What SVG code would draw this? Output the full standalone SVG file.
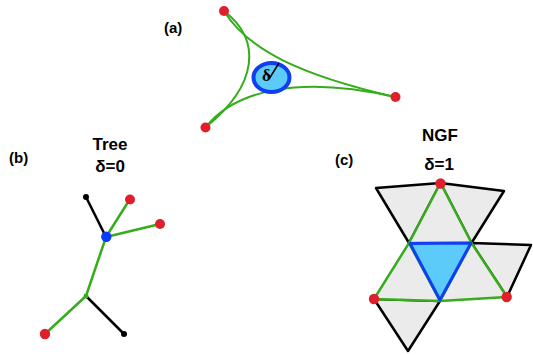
<svg xmlns="http://www.w3.org/2000/svg" width="533" height="355" viewBox="0 0 533 355">
<style>
.lbl{font-family:"Liberation Sans",Arial,sans-serif;font-weight:bold;font-size:15px;fill:#000}
.ttl{font-family:"Liberation Sans",Arial,sans-serif;font-weight:bold;font-size:17px;fill:#000;text-anchor:middle}
.g{stroke:#36ad1c;stroke-width:2.5;fill:none;stroke-linecap:round}
.gc{stroke:#36ad1c;stroke-width:2;fill:none}
.k{stroke:#000;stroke-width:2.5;fill:none;stroke-linecap:round}
.red{fill:#e01f2d}
.tri{fill:#ebebeb;stroke-linejoin:round}
</style>
<rect width="533" height="355" fill="#fff"/>
<g id="panel-a">
<text class="lbl" x="164" y="33">(a)</text>
<g id="a-connectors">
<path class="gc" d="M224,11 C262,40 258,85 206,127"/>
<path class="gc" d="M224,11 C248,50 300,75 395,97"/>
<path class="gc" d="M206,127 C235,90 300,75 395,97"/>
</g>
<g id="a-disk">
<ellipse cx="271.5" cy="77.5" rx="18" ry="14.5" fill="#5ccbfa" stroke="#0f3ff0" stroke-width="4"/>
<text x="266.5" y="80.5" font-family="Liberation Serif,serif" font-weight="bold" font-size="17" text-anchor="middle">δ</text>
<path d="M268,74 L270,77.5 L279,63" stroke="#000" stroke-width="1.5" fill="none"/>
</g>
<circle id="a-n1" class="red" cx="224" cy="11" r="5"/>
<circle id="a-n2" class="red" cx="395.5" cy="97" r="5"/>
<circle id="a-n3" class="red" cx="205.5" cy="127.5" r="5"/>
</g>
<g id="panel-b">
<text class="lbl" x="9" y="163">(b)</text>
<text class="ttl" x="110" y="150">Tree</text>
<text class="ttl" x="110" y="172">δ=0</text>
<g id="b-connectors">
<line class="k" x1="86" y1="197" x2="106" y2="237"/>
<line class="k" x1="86" y1="296" x2="124" y2="334"/>
<line class="g" x1="106" y1="237" x2="130" y2="199"/>
<line class="g" x1="106" y1="237" x2="160" y2="224"/>
<line class="g" x1="106" y1="237" x2="86" y2="296"/>
<line class="g" x1="86" y1="296" x2="45" y2="334"/>
</g>
<circle id="b-n1" cx="86" cy="197" r="3" fill="#000"/>
<circle id="b-n2" class="red" cx="130" cy="199.5" r="5"/>
<circle id="b-n3" class="red" cx="160" cy="224" r="5"/>
<circle id="b-n4" cx="106.3" cy="236.7" r="5.2" fill="#0a3cf5"/>
<circle id="b-n5" cx="86" cy="296" r="2.5" fill="#36ad1c"/>
<circle id="b-n6" cx="124" cy="334" r="3" fill="#000"/>
<circle id="b-n7" class="red" cx="45" cy="334" r="5.2"/>
</g>
<g id="panel-c">
<text class="lbl" x="335" y="165">(c)</text>
<text class="ttl" x="440" y="141">NGF</text>
<text class="ttl" x="439" y="170">δ=1</text>
<g id="c-outer">
<polygon class="tri" points="409,243 376,188 440.5,183" stroke="#000" stroke-width="2.5"/>
<polygon class="tri" points="440.5,183 504,191 471.5,243" stroke="#000" stroke-width="2.5"/>
<polygon class="tri" points="471.5,243 531,245 507,297" stroke="#000" stroke-width="2.5"/>
<polygon class="tri" points="374,299 408,351 440,301" stroke="#000" stroke-width="2.5"/>
</g>
<g id="c-mid">
<polygon class="tri" points="409,243 440.5,183 471.5,243" stroke="#36ad1c" stroke-width="2.5"/>
<polygon class="tri" points="409,243 374,299 440,301" stroke="#36ad1c" stroke-width="2.5"/>
<polygon class="tri" points="471.5,243 507,297 440,301" stroke="#36ad1c" stroke-width="2.5"/>
</g>
<polygon id="c-center" points="410,243.5 471,243 440,300" fill="#5ccbfa" stroke="#0f3ff0" stroke-width="3" stroke-linejoin="round"/>
<circle id="c-n1" class="red" cx="440.5" cy="183.5" r="5.2"/>
<circle id="c-n2" class="red" cx="374" cy="299" r="5.2"/>
<circle id="c-n3" class="red" cx="506.7" cy="297" r="5.2"/>
</g>
</svg>
